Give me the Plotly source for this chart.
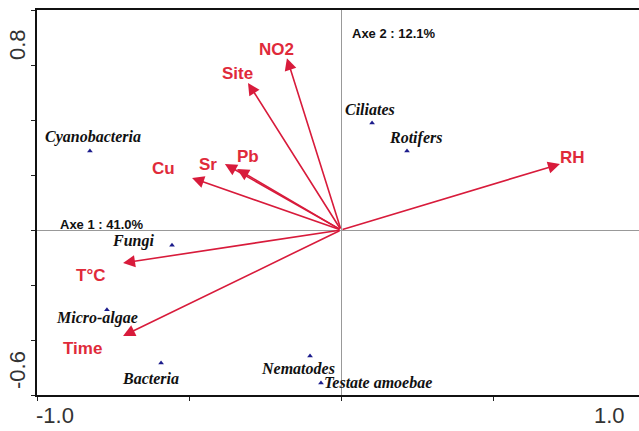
import plotly.graph_objects as go

# ---- data ----
env_names = ["NO2", "Site", "Sr", "Pb", "Cu", "RH", "T°C", "Time"]
env_x = [-0.178, -0.306, -0.382, -0.342, -0.490, 0.720, -0.717, -0.717]
env_y = [0.625, 0.535, 0.240, 0.222, 0.189, 0.240, -0.120, -0.385]

sp_names = ["Cyanobacteria", "Fungi", "Micro-algae", "Bacteria",
            "Ciliates", "Rotifers", "Nematodes", "Testate amoebae"]
sp_x = [-0.826, -0.556, -0.770, -0.592, 0.102, 0.217, -0.102, -0.066]
sp_y = [0.287, -0.055, -0.290, -0.484, 0.389, 0.287, -0.458, -0.556]

x_tick_vals = [-1.0, -0.5, 0.0, 0.5]
y_tick_vals = [-0.6, -0.4, -0.2, 0.0, 0.2, 0.4, 0.6, 0.8]
axis_titles = ["Axe 1 : 41.0%", "Axe 2 : 12.1%"]

# ---- styles (pixel offsets of labels) ----
env_label_shift = {"NO2": (-10, 9), "Site": (-11, 9), "Sr": (-17, 0), "Pb": (11, 12),
                   "Cu": (-29, 10), "RH": (13, 7), "T°C": (-33, -12), "Time": (-41, -13)}
sp_label_shift = {"Cyanobacteria": (3, 14), "Fungi": (-39, 4), "Micro-algae": (-10, -8),
                  "Bacteria": (-11, -15), "Ciliates": (-2, 14), "Rotifers": (8, 13),
                  "Nematodes": (-12, -13), "Testate amoebae": (57, 0)}

ARROW = "#d81b3b"
LABEL = "#e02a3a"

fig = go.Figure()
fig.add_trace(go.Scatter(
    x=sp_x, y=sp_y, mode="markers",
    marker=dict(symbol="triangle-up", size=5, color="#1c1c8c"),
    hoverinfo="skip", showlegend=False))

ann = []
for n, x, y in zip(env_names, env_x, env_y):
    ann.append(dict(x=x, y=y, ax=0, ay=0, xref="x", yref="y", axref="x", ayref="y",
                    text="", showarrow=True, arrowhead=2, arrowsize=1.5,
                    arrowwidth=1.6, arrowcolor=ARROW, standoff=0, startstandoff=0))
    dx, dy = env_label_shift[n]
    ann.append(dict(x=x, y=y, xref="x", yref="y", text=n, showarrow=False,
                    xshift=dx, yshift=dy,
                    font=dict(family="Liberation Sans, Arial", size=17, color=LABEL,
                              weight="bold")))

for n, x, y in zip(sp_names, sp_x, sp_y):
    dx, dy = sp_label_shift[n]
    ann.append(dict(x=x, y=y, xref="x", yref="y", text=n, showarrow=False,
                    xshift=dx, yshift=dy,
                    font=dict(family="Liberation Serif, Times New Roman", size=16,
                              color="#111111", style="italic", weight="bold")))

# axis titles
ann.append(dict(x=-1.0, y=0.0, xref="x", yref="y", text=axis_titles[0], showarrow=False,
                xanchor="left", yanchor="middle", xshift=21, yshift=6,
                font=dict(family="Liberation Sans, Arial", size=13, color="#111", weight="bold")))
ann.append(dict(x=0.0, y=0.8, xref="x", yref="y", text=axis_titles[1], showarrow=False,
                xanchor="left", yanchor="middle", xshift=9, yshift=-23,
                font=dict(family="Liberation Sans, Arial", size=13, color="#111", weight="bold")))

# tick labels placed like the original (pulled inward at the ends)
tickfont = dict(family="Liberation Sans, Arial", size=22, color="#333")
ann.append(dict(x=-1.0, y=0, xref="x", yref="paper", text="-1.0", showarrow=False,
                xanchor="center", yanchor="middle", xshift=18, yshift=-20, font=tickfont))
ann.append(dict(x=0.882, y=0, xref="x", yref="paper", text="1.0", showarrow=False,
                xanchor="center", yanchor="middle", yshift=-20, font=tickfont))
ann.append(dict(x=0, y=0.8, xref="paper", yref="y", text="0.8", showarrow=False,
                textangle=-90, xanchor="center", yanchor="middle", xshift=-20, yshift=-35,
                font=tickfont))
ann.append(dict(x=0, y=-0.6, xref="paper", yref="y", text="-0.6", showarrow=False,
                textangle=-90, xanchor="center", yanchor="middle", xshift=-20, yshift=25,
                font=tickfont))

fig.update_layout(
    width=639, height=431,
    margin=dict(l=37, r=0, t=10, b=36),
    paper_bgcolor="white", plot_bgcolor="white",
    annotations=ann,
    xaxis=dict(range=[-1.0, 0.980], tickvals=x_tick_vals, showticklabels=False,
               ticks="outside", ticklen=4, tickcolor="#222", showgrid=False,
               showline=True, linecolor="#111", linewidth=2, mirror=True,
               zeroline=True, zerolinecolor="#999", zerolinewidth=1),
    yaxis=dict(range=[-0.6, 0.8], tickvals=y_tick_vals, showticklabels=False,
               ticks="outside", ticklen=4, tickcolor="#222", showgrid=False,
               showline=True, linecolor="#111", linewidth=2,
               zeroline=True, zerolinecolor="#999", zerolinewidth=1),
)

fig.write_html("out.html", config={"displayModeBar": False},
               post_script="document.body.style.margin='0';document.body.style.overflow='hidden';")
